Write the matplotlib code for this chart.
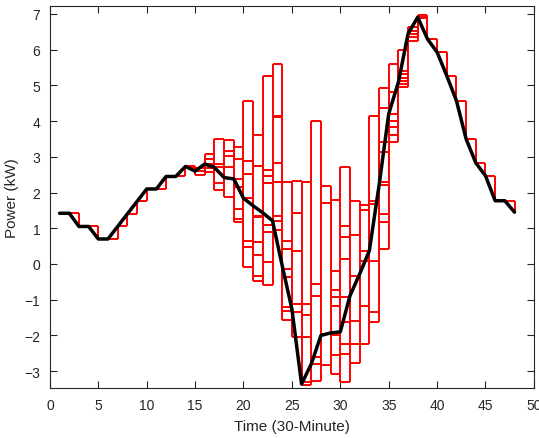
import matplotlib
matplotlib.use("Agg")
import matplotlib.pyplot as plt

# Time steps (30-minute)
time = list(range(1, 49))

# Black forecast line
forecast = [1.42, 1.42, 1.05, 1.05, 0.70, 0.70, 1.05, 1.40, 1.75, 2.10,
            2.10, 2.45, 2.45, 2.73, 2.60, 2.80, 2.70, 2.42, 2.38, 1.84,
            1.63, 1.43, 1.21, -0.05, -1.26, -3.36, -2.80, -2.00, -1.93, -1.90,
            -0.89, -0.28, 0.37, 2.19, 4.20, 5.09, 6.44, 6.91, 6.30, 5.93,
            5.27, 4.57, 3.50, 2.83, 2.47, 1.77, 1.77, 1.45]

# Scenario levels (red stairs) for the uncertain time steps
scenario_levels = {
    14: [2.75, 2.68],
    15: [2.68, 2.60, 2.50],
    16: [3.08, 2.94, 2.80, 2.68, 2.57],
    17: [3.50, 2.80, 2.71, 2.27, 2.08],
    18: [3.47, 3.17, 3.03, 2.71, 2.40, 1.87],
    19: [3.27, 2.94, 2.38, 2.15, 1.54, 1.26, 1.17],
    20: [4.56, 2.87, 2.52, 1.84, 0.65, 0.47, -0.09],
    21: [3.61, 2.75, 1.35, 1.31, 0.62, 0.25, -0.33, -0.49],
    22: [5.27, 2.63, 2.46, 2.27, 1.09, 0.89, 0.06, -0.59],
    23: [5.60, 4.15, 4.11, 2.83, 2.29, 1.35, 1.20, 0.96],
    24: [2.29, 0.65, 0.42, -0.14, -0.36, -1.21, -1.31, -1.57],
    25: [2.32, 1.43, 0.37, -1.12, -1.35, -2.05],
    26: [2.29, -1.13, -1.42, -2.03, -3.30, -3.38],
    27: [3.99, -0.56, -0.89, -2.61, -2.80, -3.27],
    28: [2.19, 1.70, -1.95, -2.83],
    29: [1.80, -0.19, -0.72, -0.93, -1.17, -2.00, -2.55, -3.08],
    30: [2.71, 1.07, 0.76, 0.14, -0.93, -1.63, -2.24, -2.52, -3.31],
    31: [1.75, 0.81, -0.35, -1.59, -2.24, -2.77],
    32: [1.64, 1.50, 0.37, 0.09, -1.17, -2.24],
    33: [4.15, 1.75, 1.68, 0.09, -1.35, -1.63],
    34: [4.92, 4.36, 3.41, 3.13, 2.29, 2.21, 1.40, 1.17, 0.42],
    35: [5.60, 4.81, 4.20, 4.01, 3.83, 3.61, 3.41],
    36: [5.98, 5.41, 5.32, 5.21, 5.13, 5.04, 4.95],
    37: [6.63, 6.52, 6.44, 6.35, 6.24],
    38: [6.96, 6.92, 6.88],
}

x_ticks = list(range(0, 51, 5))
y_ticks = list(range(-3, 8))

plt.rcParams['font.family'] = ['Liberation Sans', 'DejaVu Sans']

fig = plt.figure(figsize=(5.39, 4.39), dpi=100)
ax = fig.add_axes([0.0926, 0.1132, 0.8979, 0.8715])

red = '#ff0000'
red_lw = 1.4

def levels_at(t):
    return scenario_levels.get(t, [forecast[t - 1]])

# horizontal stair segments
for t in time[:-1]:
    lv = levels_at(t)
    ax.hlines(lv, t, t + 1, colors=red, linewidth=red_lw, zorder=2)

# vertical stair segments at each boundary
for t in time[1:]:
    lv = levels_at(t - 1) + levels_at(t)
    lo, hi = min(lv), max(lv)
    if hi > lo:
        ax.vlines(t, lo, hi, colors=red, linewidth=red_lw, zorder=2)

ax.plot(time, forecast, color='black', linewidth=2.5, zorder=3,
        solid_joinstyle='round', solid_capstyle='round')

ax.set_xlim(0, 50)
ax.set_ylim(-3.48, 7.23)
ax.set_xticks(x_ticks)
ax.set_yticks(y_ticks)

axcol = '#262626'
for s in ax.spines.values():
    s.set_color(axcol)
    s.set_linewidth(0.8)
ax.tick_params(direction='in', length=5, width=0.8, colors=axcol,
               top=True, right=True, labelsize=10)
ax.tick_params(axis='x', pad=7)
ax.tick_params(axis='y', pad=7)

ax.set_xlabel('Time (30-Minute)', fontsize=11, color=axcol, labelpad=5)
ax.set_ylabel('Power (kW)', fontsize=11, color=axcol, labelpad=4)

fig.savefig('out.png', dpi=100)
